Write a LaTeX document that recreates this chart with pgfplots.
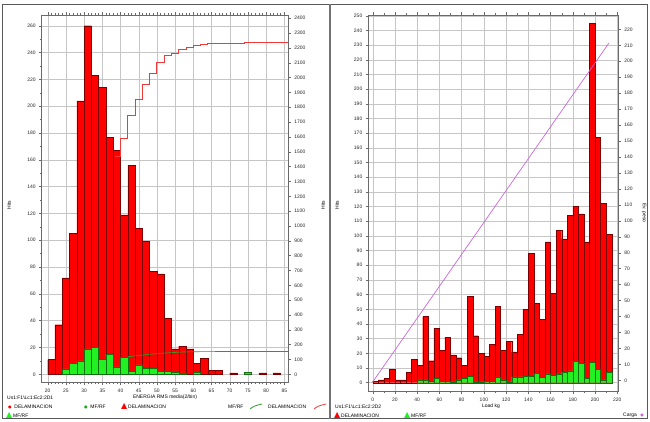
\documentclass[border=0pt]{standalone}
\usepackage{fontspec}
\setmainfont{Liberation Sans}
\newfontfamily\symfont{DejaVu Sans}
\usepackage{pgfplots}
\pgfplotsset{compat=1.18}

\definecolor{barred}{HTML}{FF0000}
\definecolor{barredD}{HTML}{780000}
\definecolor{bargreen}{HTML}{22F022}
\definecolor{bargreenD}{HTML}{107010}
\definecolor{cumred}{HTML}{F03A3A}
\definecolor{cumgreen}{HTML}{2E9A2E}
\definecolor{loadline}{HTML}{CC66DD}
\definecolor{gridc}{HTML}{C6C6C6}
\definecolor{axc}{HTML}{6A6A6A}

\pgfplotsset{
  base/.style={
    scale only axis,
    /pgf/number format/assume math mode=true,
    /pgf/number format/1000 sep={},
    tick label style={font=\fontsize{5}{6}\selectfont, text=black!85},
    axis line style={axc, line width=0.5bp},
    every tick/.style={axc, line width=0.4bp},
    tick align=outside,
    major tick length=2.5bp,
    minor tick length=1.5bp,
  },
  redbar/.style={fill=barred, draw=barredD, line width=0.35bp, bar shift=0pt},
  greenbar/.style={fill=bargreen, draw=bargreenD, line width=0.35bp, bar shift=0pt},
}

\begin{document}
\begin{tikzpicture}[x=1bp,y=1bp]
\useasboundingbox (0,0) rectangle (650,421);
\fill[white] (0,0) rectangle (650,421);

% ---------------- LEFT PANEL ----------------
\begin{axis}[base, at={(41.7bp,38.3bp)}, anchor=south west,
  width=246.6bp, height=367.7bp,
  xmin=18.35, xmax=86.1, ymin=-6.26, ymax=268,
  xtick={20,25,...,85}, minor x tick num=4, xticklabel pos=bottom,
  ytick={0,20,...,260}, minor y tick num=1, ytick pos=left,
  grid=major, major grid style={gridc, line width=0.4bp},
  ybar, bar width=2,
]
\addplot[redbar] coordinates {
(21,11) (23,37) (25,72) (27,105) (29,204) (31,260) (33,223) (35,214)
(37,177) (39,167) (41,119) (43,156) (45,109) (47,99) (49,77) (51,75)
(53,42) (55,19) (57,21) (59,19) (61,8) (63,12) (65,3) (67,3)
(71,1) (75,1) (79,1) (83,1)
};
\addplot[greenbar] coordinates {
(25,4) (27,8) (29,10) (31,19) (33,20) (35,11) (37,15) (39,5.5)
(41,12.5) (43,2) (45,7) (47,4.5) (49,4.5) (51,2) (53,2) (55,1.5)
(57,1) (61,1.5) (75,1.5)
};
\end{axis}

\begin{axis}[base, at={(41.7bp,38.3bp)}, anchor=south west,
  width=246.6bp, height=367.7bp,
  xmin=18.35, xmax=86.1, ymin=-56.5, ymax=2422,
  axis x line=none, axis y line*=right,
  ytick={0,100,...,2400},
]
\addplot[draw=cumred, line width=0.9bp, mark=none, line join=miter] coordinates {
(38.5,1470) (40,1470) (40,1589) (42,1589) (42,1745) (44,1745) (44,1854)
(46,1854) (46,1953) (48,1953) (48,2030) (50,2030) (50,2105) (52,2105)
(52,2147) (54,2147) (54,2166) (56,2166) (56,2187) (58,2187) (58,2206)
(60,2206) (60,2214) (62,2214) (62,2226) (64,2226) (64,2229) (66,2229)
(66,2232) (70,2232) (70,2233) (74,2233) (74,2235) (78,2235) (78,2237)
(82,2237) (82,2239) (86,2239)
};
\addplot[draw=cumgreen, line width=0.7bp, mark=none] coordinates {
(42,119) (44,124) (46,130) (48,135) (50,139) (52,143) (54,146)
(56,149) (58,151) (60,152) (62,153) (86,154)
};
\end{axis}

% ---------------- RIGHT PANEL ----------------
\begin{axis}[base, at={(368.3bp,29.3bp)}, anchor=south west,
  width=250bp, height=376.7bp,
  xmin=-3.96, xmax=220.9, ymin=-6.14, ymax=250.5,
  xtick={0,20,...,220}, minor x tick num=1, xticklabel pos=bottom,
  ytick={0,10,...,250}, ytick pos=left,
  grid=major, major grid style={gridc, line width=0.4bp},
  ybar, bar width=5,
]
\addplot[redbar] coordinates {
(2.5,1) (7.5,2) (12.5,3) (17.5,9) (22.5,2) (27.5,2) (32.5,7) (37.5,16)
(42.5,12) (47.5,45) (52.5,15) (57.5,37) (62.5,22) (67.5,31) (72.5,19)
(77.5,17) (82.5,12) (87.5,59) (92.5,32) (97.5,20) (102.5,18) (107.5,26)
(112.5,52) (117.5,22) (122.5,28) (127.5,21) (132.5,33) (137.5,50)
(142.5,88) (147.5,54) (152.5,43) (157.5,96) (162.5,61) (167.5,104)
(172.5,98) (177.5,114) (182.5,120) (187.5,115) (192.5,96) (197.5,245)
(202.5,167) (207.5,122) (212.5,101)
};
\addplot[greenbar] coordinates {
(42.5,2) (47.5,2) (52.5,1) (57.5,3) (62.5,1) (67.5,1) (72.5,0.5)
(77.5,2) (82.5,3) (87.5,4.5) (92.5,0.5) (97.5,0.5) (102.5,1) (107.5,1)
(112.5,3.5) (117.5,2) (122.5,0.5) (127.5,4) (132.5,4) (137.5,4.5)
(142.5,4.5) (147.5,6.4) (152.5,3.6) (157.5,6) (162.5,4.8) (167.5,6)
(172.5,7) (177.5,8) (182.5,14.5) (187.5,13) (192.5,3) (197.5,14)
(202.5,9) (207.5,2) (212.5,7)
};
\end{axis}

\begin{axis}[base, at={(368.3bp,29.3bp)}, anchor=south west,
  width=250bp, height=376.7bp,
  xmin=-3.96, xmax=220.9, ymin=-7.1, ymax=229,
  axis x line=none, axis y line*=right,
  ytick={0,10,...,220},
]
\addplot[draw=loadline, line width=0.7bp, mark=none] coordinates {(0,-1) (212.5,211.5)};
\end{axis}

% ---------------- frame ----------------
\draw[black!65, line width=1.2bp] (2.5,2.5) rectangle (647.5,416.5);
\draw[black!55, line width=1.6bp] (330,2.5) -- (330,416.5);

% ---------------- texts ----------------
\begin{scope}[every node/.style={font=\fontsize{5}{6}\selectfont, inner sep=0pt}]
\node[rotate=90] at (9,216) {Hits};
\node[rotate=90] at (323,216) {Hits};
\node[rotate=90] at (337,216) {Hits};
\node[rotate=-90] at (644,208) {Ev. peso};

\node[anchor=west] at (7,23) {Us1:F1\textbackslash Lc1:Ec2:2D1};
\node at (165,24) {ENERGIA RMS media(2/bin)};
\node[anchor=west] at (8,14) {{\color{barred}\symfont\fontsize{4}{5}\selectfont ●}\ \ DELAMINACION};
\node[anchor=west] at (84,14) {{\color{bargreen!70!black}\symfont\fontsize{4}{5}\selectfont ●}\ \ MF/RF};
\node[anchor=west] at (121,14.5) {{\color{barred}\symfont\fontsize{8}{8}\selectfont ▲}\,DELAMINACION};
\node[anchor=west] at (228,14) {MF/RF};
\draw[cumgreen, line width=0.8bp] (250,12) .. controls (254,15) .. (262,17);
\node[anchor=west] at (268,14) {DELAMINACION};
\draw[cumred, line width=0.8bp] (314,12) .. controls (318,15) .. (326,17);
\node[anchor=west] at (6,6) {{\color{bargreen}\symfont\fontsize{8}{8}\selectfont ▲}\,MF/RF};

\node[anchor=west] at (335,14) {Us1:F1\textbackslash Lc1:Ec2:2D2};
\node at (491,15) {Load kg};
\node[anchor=west] at (334,6) {{\color{barred}\symfont\fontsize{8}{8}\selectfont ▲}\,DELAMINACION};
\node[anchor=west] at (404,6) {{\color{bargreen}\symfont\fontsize{8}{8}\selectfont ▲}\,MF/RF};
\node[anchor=east] at (637,6) {Carga};
\node at (642,6) {{\color{loadline}\symfont\fontsize{4}{5}\selectfont ●}};
\end{scope}
\end{tikzpicture}
\end{document}
